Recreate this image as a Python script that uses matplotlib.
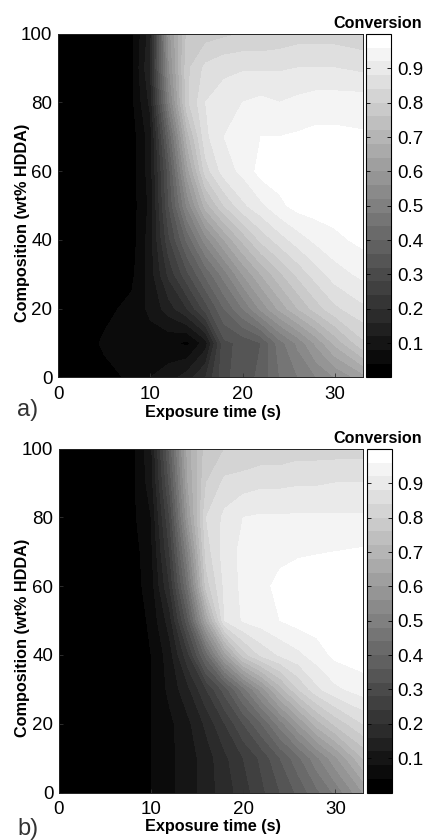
import matplotlib
matplotlib.use('Agg')
import matplotlib.pyplot as plt
import numpy as np

plt.rcParams['font.family'] = ['Liberation Sans', 'DejaVu Sans']

# Axis grids
time = [0, 5, 8, 10, 12, 14, 16, 18, 20, 22, 24, 26, 28, 30, 33]
composition = [0, 10, 20, 30, 40, 50, 60, 70, 80, 90, 100]

# Conversion values, one row per composition
conv_a = [
    [0.00, 0.03, 0.045, 0.08, 0.10, 0.14, 0.20, 0.31, 0.34, 0.37, 0.44, 0.48, 0.52, 0.56, 0.62],
    [0.00, 0.045, 0.05, 0.06, 0.05, 0.03, 0.10, 0.31, 0.33, 0.36, 0.46, 0.53, 0.61, 0.69, 0.79],
    [0.00, 0.03, 0.05, 0.09, 0.14, 0.20, 0.30, 0.40, 0.48, 0.57, 0.65, 0.72, 0.78, 0.83, 0.87],
    [0.00, 0.02, 0.03, 0.10, 0.21, 0.31, 0.41, 0.50, 0.60, 0.68, 0.75, 0.81, 0.86, 0.90, 0.93],
    [0.00, 0.00, 0.02, 0.10, 0.27, 0.41, 0.54, 0.64, 0.73, 0.81, 0.86, 0.90, 0.93, 0.95, 0.97],
    [0.00, 0.01, 0.02, 0.09, 0.32, 0.53, 0.70, 0.80, 0.87, 0.91, 0.95, 0.975, 0.98, 0.98, 0.98],
    [0.00, 0.00, 0.02, 0.10, 0.34, 0.62, 0.82, 0.90, 0.93, 0.975, 0.98, 0.99, 0.99, 0.99, 0.99],
    [0.00, 0.00, 0.02, 0.10, 0.40, 0.70, 0.87, 0.92, 0.945, 0.96, 0.96, 0.965, 0.97, 0.97, 0.965],
    [0.00, 0.00, 0.03, 0.13, 0.50, 0.79, 0.88, 0.90, 0.92, 0.93, 0.92, 0.93, 0.94, 0.94, 0.94],
    [0.00, 0.00, 0.03, 0.16, 0.55, 0.79, 0.85, 0.87, 0.875, 0.875, 0.875, 0.88, 0.88, 0.88, 0.87],
    [0.00, 0.00, 0.03, 0.14, 0.58, 0.77, 0.78, 0.79, 0.80, 0.80, 0.81, 0.82, 0.82, 0.82, 0.81],
]
conv_b = [
    [0.00, 0.00, 0.00, 0.04, 0.07, 0.10, 0.14, 0.18, 0.22, 0.27, 0.32, 0.37, 0.43, 0.49, 0.60],
    [0.00, 0.00, 0.00, 0.04, 0.07, 0.10, 0.14, 0.19, 0.24, 0.29, 0.36, 0.43, 0.51, 0.59, 0.72],
    [0.00, 0.00, 0.00, 0.04, 0.07, 0.11, 0.17, 0.24, 0.32, 0.40, 0.50, 0.60, 0.70, 0.77, 0.84],
    [0.00, 0.00, 0.01, 0.04, 0.09, 0.15, 0.24, 0.34, 0.46, 0.58, 0.70, 0.80, 0.87, 0.91, 0.94],
    [0.00, 0.00, 0.01, 0.04, 0.10, 0.23, 0.42, 0.62, 0.78, 0.85, 0.885, 0.91, 0.94, 0.97, 0.98],
    [0.00, 0.00, 0.01, 0.05, 0.14, 0.35, 0.64, 0.88, 0.925, 0.94, 0.96, 0.975, 0.98, 0.99, 0.99],
    [0.00, 0.00, 0.02, 0.06, 0.20, 0.45, 0.78, 0.89, 0.93, 0.95, 0.97, 0.98, 0.99, 0.99, 0.99],
    [0.00, 0.00, 0.02, 0.07, 0.24, 0.52, 0.82, 0.90, 0.93, 0.94, 0.95, 0.955, 0.957, 0.96, 0.965],
    [0.00, 0.00, 0.03, 0.08, 0.28, 0.60, 0.84, 0.89, 0.92, 0.925, 0.925, 0.925, 0.925, 0.925, 0.925],
    [0.00, 0.00, 0.03, 0.10, 0.33, 0.64, 0.80, 0.85, 0.86, 0.87, 0.87, 0.875, 0.875, 0.88, 0.88],
    [0.00, 0.00, 0.03, 0.11, 0.37, 0.66, 0.78, 0.80, 0.80, 0.81, 0.81, 0.82, 0.82, 0.82, 0.82],
]
cbar_ticks = [0.1, 0.2, 0.3, 0.4, 0.5, 0.6, 0.7, 0.8, 0.9]
levels = np.linspace(0, 1, 26)
band_colors = [str(g) for g in np.linspace(0, 1, 25)]

W, H = 427.0, 840.0


def box(x0, y0, x1, y1):
    # pixel box (top-left origin) to figure fractions
    return [x0 / W, 1 - y1 / H, (x1 - x0) / W, (y1 - y0) / H]


def panel(fig, z, ax_box, cb_box, tag, tag_y, xlabel_y, conv_y):
    ax = fig.add_axes(box(*ax_box))
    cs = ax.contourf(time, composition, np.array(z), levels=levels, colors=band_colors)
    ax.set_xlim(0, 33)
    ax.set_ylim(0, 100)
    ax.set_xticks([0, 10, 20, 30])
    ax.set_yticks([0, 20, 40, 60, 80, 100])
    ax.tick_params(direction='in', length=3, width=0.6, labelsize=13.5, color='#333333')
    ax.tick_params(axis='x', pad=6)
    ax.tick_params(axis='y', pad=4)
    for s in ax.spines.values():
        s.set_linewidth(0.7)
        s.set_color('#222222')

    cax = fig.add_axes(box(*cb_box))
    cb = fig.colorbar(cs, cax=cax, drawedges=False)
    cb.set_ticks(cbar_ticks)
    cb.set_ticklabels(['%.1f' % t for t in cbar_ticks])
    cax.tick_params(direction='in', length=3, width=0.6, labelsize=13.5, pad=4, left=True, right=True)
    cb.outline.set_linewidth(0.8)

    fig.text(213 / W, 1 - xlabel_y / H, 'Exposure time (s)',
             fontsize=11.7, fontweight='bold', ha='center', va='center')
    fig.text(23 / W, 1 - ((ax_box[1] + ax_box[3]) / 2 + 17) / H, 'Composition (wt% HDDA)',
             fontsize=11.7, fontweight='bold', rotation=90, ha='center', va='center')
    fig.text(378 / W, 1 - conv_y / H, 'Conversion', fontsize=11.6, fontweight='bold',
             ha='center', va='center')
    fig.text(17 / W, 1 - tag_y / H, tag, fontsize=17, color='#333333', ha='left', va='center')


fig = plt.figure(figsize=(4.27, 8.40), dpi=100)
panel(fig, conv_a, (58, 33.5, 362.5, 377.5), (366.5, 34, 391.5, 377.5), 'a)', 410, 413, 23)
panel(fig, conv_b, (59, 448.5, 363, 792.5), (367, 449, 392, 792.5), 'b)', 829, 827, 438)
fig.savefig('out.png', dpi=100)
